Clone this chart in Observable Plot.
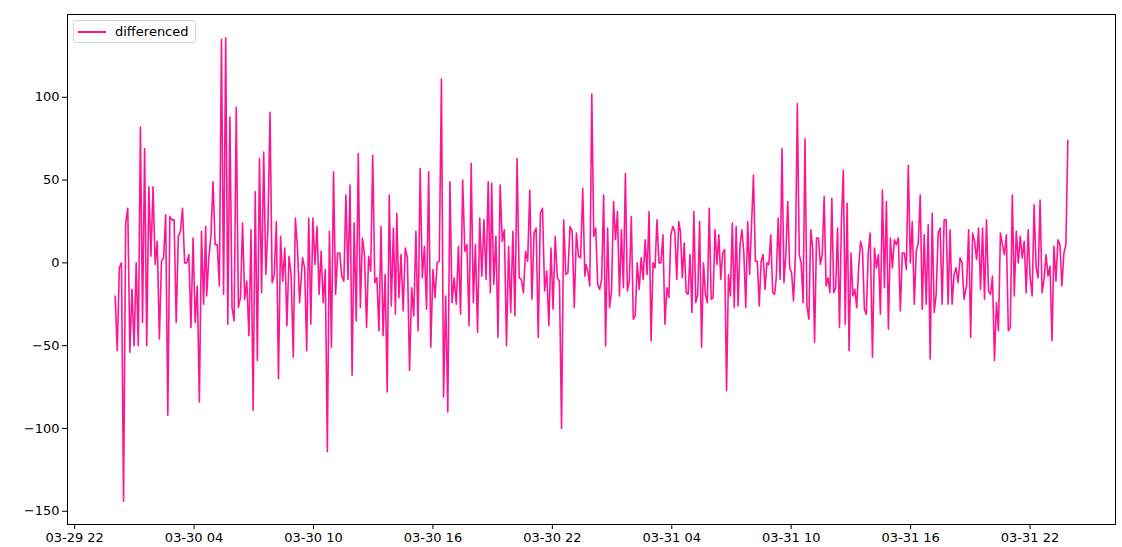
<!DOCTYPE html>
<html>
<head>
<meta charset="utf-8">
<script src="https://cdn.jsdelivr.net/npm/d3@7"></script>
<script src="https://cdn.jsdelivr.net/npm/@observablehq/plot@0.6"></script>
<style>
  html, body { margin: 0; padding: 0; background: #fff; }
  #chart { position: relative; width: 1122px; height: 547px; font-family: "DejaVu Sans", sans-serif; }
  #legend { position: absolute; left: 73px; top: 20px; width: 123px; height: 23px; box-sizing: border-box;
            border: 1px solid #d4d4d4; border-radius: 3px; background: rgba(255,255,255,0.85);
            font: 13px "DejaVu Sans", sans-serif; color: #000; }
  #legend .swatch { position: absolute; left: 4px; top: 10px; width: 28px; height: 1.6px; background: #ff1493; }
  #legend .label { position: absolute; left: 41px; top: 3px; line-height: 15px; }
</style>
</head>
<body>
<div id="chart"></div>
<script>
// ---- data, in consecutive time blocks ----
const seriesName = "differenced";
// each block: first and last sample time, and the values read in between
const block1 = { from: "2023-03-30T00:02Z", to: "2023-03-30T04:35Z", values:
  [-20,-53,-3,0,-144,24,33,-54,-16,-50,0,-50,82,-36,69,-50,46,4,46,-1,13,-46,1,3,29,-92,28,26,26,-36,16,19,33,0,0,5,-39,15,-36,-14,-84,19,-25,22] };
const block2 = { from: "2023-03-30T04:38Z", to: "2023-03-30T09:18Z", values:
  [-20,3,16,49,11,11,-14,135,-19,136,-37,88,-27,-35,94,-27,-21,24,-22,-11,-44,20,-89,43,-59,63,-18,67,-7,21,91,-12,-7,25,-70,16,-11,9,-38,4,-7,-57,27,9,-24] };
const block3 = { from: "2023-03-30T09:27Z", to: "2023-03-30T14:07Z", values:
  [3,-3,-53,27,-37,27,-1,22,-19,7,-24,-4,-114,19,-51,55,-19,6,6,-8,-11,41,-10,47,-68,24,-35,66,-27,15,5,-39,4,-5,65,-12,-9,-41,22,-44,-7,-78,41,-26,21,-31] };
const block4 = { from: "2023-03-30T14:11Z", to: "2023-03-30T18:53Z", values:
  [30,-21,5,-29,9,3,-65,-15,-32,19,-41,57,-9,10,-28,55,-51,-4,-21,0,1,111,-81,-20,-90,49,-24,-9,-25,10,-31,50,7,11,-38,60,-24,11,-42,27,-8,26,-10,49,-18] };
const block5 = { from: "2023-03-30T18:57Z", to: "2023-03-30T23:38Z", values:
  [48,-13,16,-45,47,13,20,-50,10,-30,19,-32,63,-9,-10,-18,7,1,44,-22,18,21,-45,30,33,-17,-5,-38,9,-28,16,-9,-11,-100,26,-7,-6,22,19,-27,18,4,3,45,-8] };
const block6 = { from: "2023-03-30T23:41Z", to: "2023-03-31T04:21Z", values:
  [-1,-5,-14,102,16,21,-13,-16,-10,41,-50,21,-27,-17,37,14,31,-20,20,-15,54,-17,-11,28,-34,-32,0,-16,3,-10,14,-7,31,-47,0,-3,26,0,0,17,-37,-15,-21,17,22,19,-10,25] };
const block7 = { from: "2023-03-31T04:26Z", to: "2023-03-31T09:10Z", values:
  [19,-9,12,-18,-19,5,-30,31,-24,-19,25,-51,0,-19,-24,33,-22,-21,20,-1,17,-10,6,8,-77,-7,-20,24,-27,22,-26,11,20,6,-27,25,-7,23,53,1,1,-26,1,5,-16,0,-1,17,-18,-19] };
const block8 = { from: "2023-03-31T09:15Z", to: "2023-03-31T13:58Z", values:
  [-9,27,-10,69,-12,5,37,-3,-6,-23,5,96,5,0,-24,75,-26,-34,20,9,-48,15,15,-1,5,40,-14,-9,-18,39,-18,-15,21,-39,25,56,-37,36,-53,6,-20,-16,-27,-3,13,8,-28,-31,6,18] };
const block9 = { from: "2023-03-31T14:05Z", to: "2023-03-31T18:41Z", values:
  [-57,9,-3,5,-31,44,-15,37,-40,15,-3,14,11,15,-29,6,6,-4,59,0,25,-25,7,12,41,-28,17,-25,23,-58,30,-30,-19,18,21,-25,26,26,-25,20,-25,-7,-3,-12,3,0,-22] };
const block10 = { from: "2023-03-31T18:49Z", to: "2023-03-31T23:54Z", values:
  [-13,20,-45,18,13,2,21,-16,21,-22,26,-17,-19,-8,-59,-24,-41,18,11,5,17,-41,-39,41,-20,19,0,16,3,13,-18,20,-9,-20,35,-3,-9,38,-18,-10,5,-8,-2,-47,10,-11,14,11,-14,6,11,74] };

const xTickTimes = ["2023-03-29T22:00Z","2023-03-30T04:00Z","2023-03-30T10:00Z","2023-03-30T16:00Z","2023-03-30T22:00Z","2023-03-31T04:00Z","2023-03-31T10:00Z","2023-03-31T16:00Z","2023-03-31T22:00Z"];
const yTicks = [-150, -100, -50, 0, 50, 100];

// ---- build table: samples evenly spaced inside each block ----
const blocks = [block1, block2, block3, block4, block5, block6, block7, block8, block9, block10];
const rows = blocks.flatMap(b => {
  const a = new Date(b.from).getTime(), z = new Date(b.to).getTime();
  const n = b.values.length;
  return b.values.map((v, i) => ({ t: new Date(a + (z - a) * i / (n - 1)), v }));
});

// matplotlib-like 5% autoscale margins
const [tMin, tMax] = d3.extent(rows, d => d.t.getTime());
const span = tMax - tMin;
const xDomain = [new Date(tMin - 0.05 * span), new Date(tMax + 0.05 * span)];
const [vmin, vmax] = d3.extent(rows, d => d.v);
const yDomain = [vmin - 0.05 * (vmax - vmin), vmax + 0.05 * (vmax - vmin)];

const fmt = d3.utcFormat("%m-%d %H");

const plot = Plot.plot({
  width: 1122,
  height: 547,
  marginLeft: 67,
  marginRight: 7,
  marginTop: 14,
  marginBottom: 23,
  style: { fontFamily: "DejaVu Sans, sans-serif", fontSize: "13px", color: "#000", background: "#fff", overflow: "visible" },
  x: { type: "utc", domain: xDomain, ticks: xTickTimes.map(d => new Date(d)), tickFormat: fmt, tickSize: 5, tickPadding: 3, label: null },
  y: { domain: yDomain, ticks: yTicks, tickSize: 5, tickPadding: 3, label: null },
  marks: [
    Plot.lineY(rows, { x: "t", y: "v", stroke: "#ff1493", strokeWidth: 1.6 }),
    Plot.frame({ stroke: "#000", strokeWidth: 1 })
  ]
});
const chart = document.getElementById("chart");
chart.appendChild(plot);

const legend = document.createElement("div");
legend.id = "legend";
legend.innerHTML = '<div class="swatch"></div><div class="label"></div>';
legend.querySelector(".label").textContent = seriesName;
chart.appendChild(legend);
</script>
</body>
</html>
